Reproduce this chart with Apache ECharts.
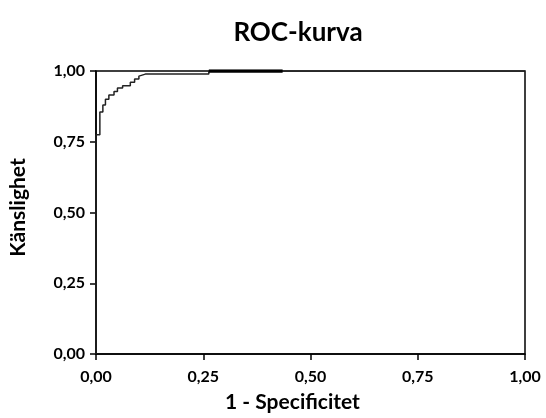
<!DOCTYPE html>
<html>
<head>
<meta charset="utf-8">
<script src="https://cdn.jsdelivr.net/npm/echarts@6/dist/echarts.min.js"></script>
<style>html,body{margin:0;padding:0;background:#fff}#c{width:546px;height:418px}</style>
</head>
<body>
<div id="c"></div>
<script>
// ROC curve points (1 - specificity, sensitivity)
var fpr = [0, 0, 0.009, 0.009, 0.016, 0.016, 0.022, 0.022, 0.030, 0.030, 0.042, 0.042, 0.050, 0.050, 0.062, 0.062, 0.080, 0.080, 0.090, 0.090, 0.100, 0.100, 0.115, 0.263, 0.263, 1.0];
var tpr = [0, 0.775, 0.775, 0.855, 0.855, 0.880, 0.880, 0.900, 0.900, 0.915, 0.915, 0.928, 0.928, 0.940, 0.940, 0.948, 0.948, 0.960, 0.960, 0.972, 0.972, 0.982, 0.989, 0.989, 1.0, 1.0];
// heavier segment along the top (tied points)
var tieFpr = [0.263, 0.435];
var tieTpr = [1.0, 1.0];
var ticks = [0, 0.25, 0.5, 0.75, 1.0];
var titleText = 'ROC-kurva';
var xName = '1 - Specificitet';
var yName = 'Känslighet';

function zip(a, b) { return a.map(function (v, i) { return [v, b[i]]; }); }
function fmt(v) { return v.toFixed(2).replace('.', ','); }

var FONT = 'Lato';
var chart = echarts.init(document.getElementById('c'), null, {renderer: 'canvas'});
var axisCommon = {
  type: 'value', min: 0, max: 1, interval: 0.25,
  axisLine: {show: true, lineStyle: {color: '#000', width: 1.5}},
  axisTick: {show: true, inside: false, length: 6, lineStyle: {color: '#000', width: 1.5}},
  splitLine: {show: false},
  axisLabel: {color: '#000', fontFamily: FONT, fontWeight: 'bold', fontSize: 16, formatter: fmt},
  nameLocation: 'middle'
};
chart.setOption({
  animation: false,
  backgroundColor: '#fff',
  title: {text: titleText, left: 293, textAlign: 'center', top: 15,
    textStyle: {color: '#000', fontFamily: FONT, fontWeight: 'bold', fontSize: 26}},
  grid: {left: 95, right: 21, top: 71, bottom: 63, show: true, borderColor: '#000', borderWidth: 1.5, backgroundColor: 'transparent'},
  xAxis: Object.assign({}, axisCommon, {name: xName, nameGap: 38,
    nameTextStyle: {color: '#000', fontFamily: FONT, fontWeight: 'bold', fontSize: 21, padding: [0, 36, 0, 0]},
    axisLabel: Object.assign({}, axisCommon.axisLabel, {margin: 15})}),
  yAxis: Object.assign({}, axisCommon, {name: yName, nameGap: 67,
    nameTextStyle: {color: '#000', fontFamily: FONT, fontWeight: 'bold', fontSize: 21, padding: [0, 0, 0, 10]},
    axisLabel: Object.assign({}, axisCommon.axisLabel, {margin: 11})}),
  series: [
    {type: 'line', data: zip(fpr, tpr), showSymbol: false, symbol: 'none',
      lineStyle: {color: '#222', width: 1.5}},
    {type: 'line', data: zip(tieFpr, tieTpr), showSymbol: false, symbol: 'none',
      lineStyle: {color: '#000', width: 3.5}}
  ]
});
</script>
</body>
</html>
